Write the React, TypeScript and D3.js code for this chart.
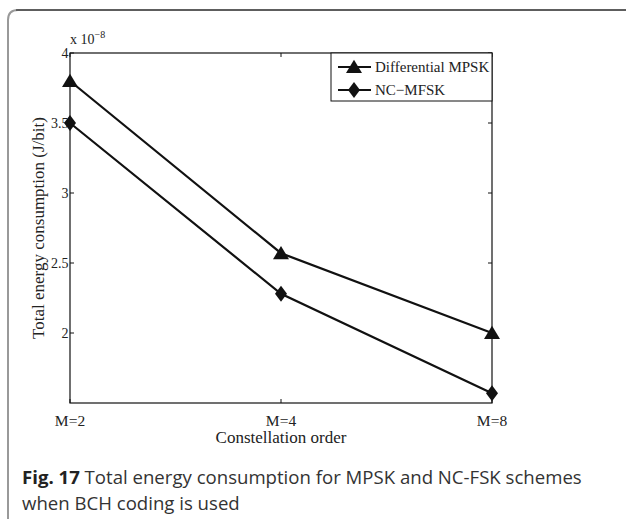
import React from "react";
import * as d3 from "d3";

const categories = ["M=2", "M=4", "M=8"];
const mpsk = [3.8, 2.57, 2.0];
const ncmfsk = [3.5, 2.28, 1.57];
const yTicks = [2, 2.5, 3, 3.5, 4];
const yTickLabels = ["2", "2.5", "3", "3.5", "4"];
const legendLabels = ["Differential MPSK", "NC\u2212MFSK"];

const W = 626;
const H = 519;
const left = 70;
const right = 492;
const top = 53;
const bottom = 403;
const serif = "'Liberation Serif', 'Times New Roman', serif";
const sans = "'Open Sans', 'Noto Sans', sans-serif";

function triangle(cx: number, cy: number, s: number) {
  return `M${cx},${cy - s * 0.9} L${cx + s},${cy + s * 0.75} L${cx - s},${cy + s * 0.75} Z`;
}
function diamond(cx: number, cy: number, s: number) {
  return `M${cx},${cy - s} L${cx + s * 0.75},${cy} L${cx},${cy + s} L${cx - s * 0.75},${cy} Z`;
}

export default function App() {
  const x = d3.scalePoint<string>().domain(categories).range([left, right]);
  const y = d3.scaleLinear().domain([1.5, 4]).range([bottom, top]);
  const line = d3
    .line<number>()
    .x((_, i) => x(categories[i]) as number)
    .y((d) => y(d));

  const lg = { x0: 331, y0: 53, w: right - 331, h: 48 };

  return (
    <svg
      width={W}
      height={H}
      style={{ position: "absolute", left: 0, top: 0, background: "#fff" }}
    >
      {/* outer frame */}
      <path d={`M8,${H + 10} L8,20 Q8,10 18,10 L${W + 10},10`} fill="none" stroke="#999" strokeWidth={2} />
      <line x1={16} y1={10} x2={W} y2={10} stroke="#222" strokeWidth={1} />

      {/* axes box */}
      <rect x={left} y={top} width={right - left} height={bottom - top} fill="none" stroke="#111" strokeWidth={1.2} />

      {/* y ticks */}
      {yTicks.map((t, i) => (
        <g key={t}>
          <line x1={left} x2={left + 4} y1={y(t)} y2={y(t)} stroke="#111" />
          <line x1={right} x2={right - 4} y1={y(t)} y2={y(t)} stroke="#111" />
          <text x={left - 1.5} y={y(t) + 5} textAnchor="end" fontFamily={serif} fontSize={14} fill="#222">
            {yTickLabels[i]}
          </text>
        </g>
      ))}

      {/* x ticks */}
      {categories.map((c) => (
        <g key={c}>
          <line x1={x(c)} x2={x(c)} y1={bottom} y2={bottom - 4} stroke="#111" />
          <line x1={x(c)} x2={x(c)} y1={top} y2={top + 4} stroke="#111" />
          <text x={x(c)} y={bottom + 23} textAnchor="middle" fontFamily={serif} fontSize={15.5} fill="#222">
            {c}
          </text>
        </g>
      ))}

      {/* exponent */}
      <text x={left} y={top - 9} fontFamily={serif} fontSize={14} fill="#222">
        x 10
        <tspan dy={-6} fontSize={10}>{"\u22128"}</tspan>
      </text>

      {/* axis titles */}
      <text x={(left + right) / 2} y={bottom + 40} textAnchor="middle" fontFamily={serif} fontSize={17} fill="#222">
        Constellation order
      </text>
      <text
        transform={`translate(${left - 26},${(top + bottom) / 2}) rotate(-90)`}
        textAnchor="middle"
        fontFamily={serif}
        fontSize={17}
        fill="#222"
      >
        Total energy consumption (J/bit)
      </text>

      {/* series */}
      <path d={line(mpsk) || ""} fill="none" stroke="#111" strokeWidth={2.2} />
      <path d={line(ncmfsk) || ""} fill="none" stroke="#111" strokeWidth={2.2} />
      {mpsk.map((v, i) => (
        <path key={"t" + i} d={triangle(x(categories[i]) as number, y(v), 8)} fill="#111" />
      ))}
      {ncmfsk.map((v, i) => (
        <path key={"d" + i} d={diamond(x(categories[i]) as number, y(v), 8)} fill="#111" />
      ))}

      {/* legend */}
      <rect x={lg.x0} y={lg.y0} width={lg.w} height={lg.h} fill="#fff" stroke="#111" strokeWidth={1} />
      {legendLabels.map((l, i) => {
        const ly = lg.y0 + 14 + i * 23;
        return (
          <g key={l}>
            <line x1={lg.x0 + 7} x2={lg.x0 + 40} y1={ly} y2={ly} stroke="#111" strokeWidth={2.2} />
            <path d={i === 0 ? triangle(lg.x0 + 23, ly, 8) : diamond(lg.x0 + 23, ly, 8)} fill="#111" />
            <text x={lg.x0 + 44} y={ly + 5} fontFamily={serif} fontSize={15} fill="#222">
              {l}
            </text>
          </g>
        );
      })}

      {/* caption */}
      <text x={22} y={484} fontFamily={sans} fontSize={18.6} fill="#333">
        <tspan fontWeight="bold" fill="#222">Fig. 17</tspan> Total energy consumption for MPSK and NC-FSK schemes
      </text>
      <text x={22} y={510} fontFamily={sans} fontSize={18.6} fill="#333">
        when BCH coding is used
      </text>
    </svg>
  );
}
